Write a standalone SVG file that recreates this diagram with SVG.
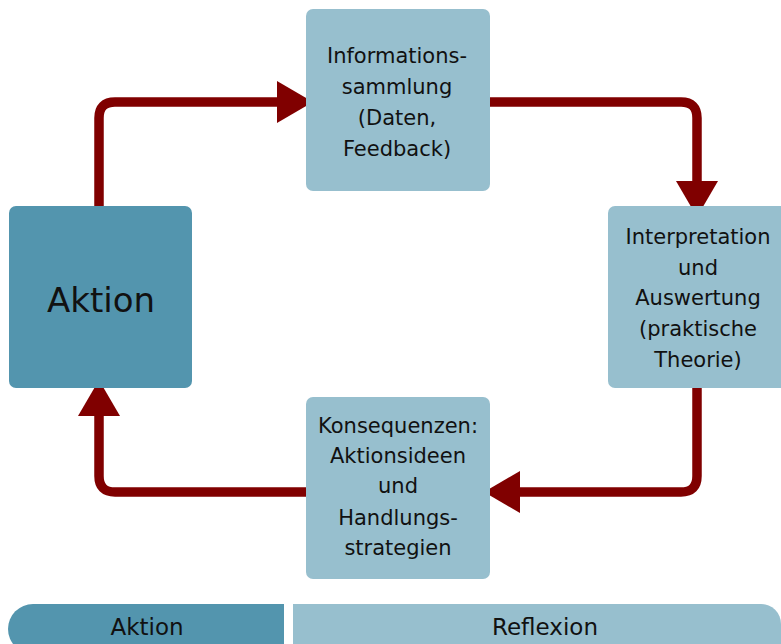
<svg xmlns="http://www.w3.org/2000/svg" width="781" height="644" viewBox="0 0 781 644">
<style>
.light{fill:#97BFCE;}
.dark{fill:#5395AE;}
.t{font-family:"DejaVu Sans","Liberation Sans",sans-serif;font-size:21px;fill:#111;text-anchor:middle;}
.big{font-size:34px;}
.bar{font-size:23px;}
.conn{fill:none;stroke:#800000;stroke-width:9.5;}
</style>
<defs>
<marker id="arr" viewBox="0 0 36 42" refX="1" refY="21" markerWidth="36" markerHeight="42" markerUnits="userSpaceOnUse" orient="auto">
<path d="M0,0 L36,21 L0,42 Z" fill="#800000"/>
</marker>
</defs>
<rect width="781" height="644" fill="#fff"/>
<g id="connectors">
<path class="conn" d="M99 206 V118 Q99 102 115 102 H278" marker-end="url(#arr)"/>
<path class="conn" d="M490 102 H681 Q697 102 697 118 V182" marker-end="url(#arr)"/>
<path class="conn" d="M697 388 V476 Q697 492 681 492 H519" marker-end="url(#arr)"/>
<path class="conn" d="M306 492 H115 Q99 492 99 476 V415" marker-end="url(#arr)"/>
</g>
<g id="aktion">
<rect class="dark" x="9" y="206" width="183" height="182" rx="7"/>
<text class="t big" x="101" y="312">Aktion</text>
</g>
<g id="informationssammlung">
<rect class="light" x="306" y="9" width="184" height="182" rx="7"/>
<text class="t" x="397" y="63">Informations-</text>
<text class="t" x="397" y="94">sammlung</text>
<text class="t" x="397" y="125">(Daten,</text>
<text class="t" x="397" y="156">Feedback)</text>
</g>
<g id="interpretation">
<rect class="light" x="608" y="206" width="182" height="182" rx="7"/>
<text class="t" x="698" y="244">Interpretation</text>
<text class="t" x="698" y="275">und</text>
<text class="t" x="698" y="305">Auswertung</text>
<text class="t" x="698" y="336">(praktische</text>
<text class="t" x="698" y="367">Theorie)</text>
</g>
<g id="konsequenzen">
<rect class="light" x="306" y="397" width="184" height="182" rx="7"/>
<text class="t" x="398" y="433">Konsequenzen:</text>
<text class="t" x="398" y="463">Aktionsideen</text>
<text class="t" x="398" y="493">und</text>
<text class="t" x="398" y="525">Handlungs-</text>
<text class="t" x="398" y="555">strategien</text>
</g>
<g id="bar-aktion">
<path class="dark" d="M284 604 V654 H33 A25 25 0 0 1 8 629 A25 25 0 0 1 33 604 Z"/>
<text class="t bar" x="147" y="635">Aktion</text>
</g>
<g id="bar-reflexion">
<path class="light" d="M293 604 H761 A20 20 0 0 1 781 624 V654 H293 Z"/>
<text class="t bar" x="545" y="635">Reflexion</text>
</g>
</svg>
